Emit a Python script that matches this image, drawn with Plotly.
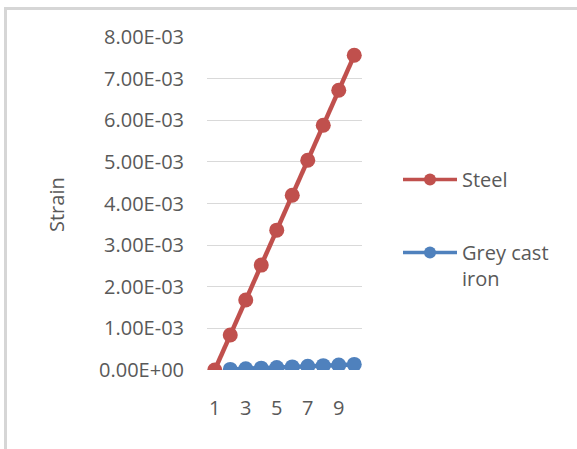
import plotly.graph_objects as go

# Load step index and measured strain for the two materials
steps = [1, 2, 3, 4, 5, 6, 7, 8, 9, 10]
steel_strain = [0.0, 0.00084, 0.00168, 0.00252, 0.00336, 0.00420,
                0.00504, 0.00588, 0.00672, 0.00756]
cast_iron_strain = [None, 0.000015, 0.000030, 0.000045, 0.000060, 0.000075,
                    0.000090, 0.000105, 0.000120, 0.000135]

y_ticks = [0.0, 0.001, 0.002, 0.003, 0.004, 0.005, 0.006, 0.007, 0.008]
x_ticks = [1, 3, 5, 7, 9]

RED = "#C0504D"
BLUE = "#4F81BD"
TEXT = "#595959"
GRID = "#D9D9D9"
FONT = "Open Sans"

W, H = 577, 449
L, R, T, B = 207, 215, 37, 79
plot_w = W - L - R
plot_h = H - T - B


def px_x(px):
    return (px - L) / plot_w


def px_y(py):
    return (H - B - py) / plot_h


fig = go.Figure()

fig.add_trace(go.Scatter(
    x=steps, y=steel_strain, mode="lines+markers", name="Steel",
    line=dict(color=RED, width=4.5), marker=dict(color=RED, size=15),
    showlegend=False,
))
fig.add_trace(go.Scatter(
    x=steps, y=cast_iron_strain, mode="lines+markers", name="Grey cast<br>iron",
    line=dict(color=BLUE, width=4.5), marker=dict(color=BLUE, size=15),
    showlegend=False,
))

# Legend entries with smaller symbols
fig.add_trace(go.Scatter(
    x=[None], y=[None], mode="lines+markers", name="Steel", legendgroup="a",
    line=dict(color=RED, width=3.5), marker=dict(color=RED, size=12),
))
fig.add_trace(go.Scatter(
    x=[None], y=[None], mode="lines+markers", name="Grey cast<br>iron", legendgroup="b",
    line=dict(color=BLUE, width=3.5), marker=dict(color=BLUE, size=12),
))

fig.update_layout(
    width=W, height=H,
    margin=dict(l=L, r=R, t=T, b=B, autoexpand=False),
    paper_bgcolor="white", plot_bgcolor="white",
    font=dict(family=FONT, size=20, color=TEXT),
    legend=dict(
        x=px_x(398), y=px_y(160), xanchor="left", yanchor="top",
        itemwidth=54, traceorder="grouped", tracegroupgap=44,
        valign="top", font=dict(family=FONT, size=20, color=TEXT),
        bgcolor="rgba(0,0,0,0)",
    ),
    xaxis=dict(
        range=[0.5, 10.5], tickvals=x_ticks, ticktext=[str(v) for v in x_ticks],
        showgrid=False, zeroline=False, showline=False, ticks="",
        ticklabelstandoff=24, tickfont=dict(size=20, color=TEXT),
    ),
    yaxis=dict(
        range=[0, 0.008], tickvals=y_ticks, ticktext=[f"{v:.2E}" for v in y_ticks],
        showgrid=True, gridcolor=GRID, gridwidth=1, zeroline=False,
        showline=False, ticks="", ticklabelstandoff=22,
        tickfont=dict(size=20, color=TEXT),
    ),
    annotations=[dict(
        text="Strain", xref="paper", yref="paper", x=px_x(57), y=px_y(205),
        xanchor="center", yanchor="middle",
        showarrow=False, textangle=-90, font=dict(family=FONT, size=20, color=TEXT),
    )],
    shapes=[dict(
        type="rect", xref="paper", yref="paper",
        x0=px_x(5.5), x1=px_x(590), y0=px_y(460), y1=px_y(8.5),
        line=dict(color="#D6D6D6", width=3), fillcolor="rgba(0,0,0,0)", layer="below",
    )],
)

fig.write_html("out.html")
